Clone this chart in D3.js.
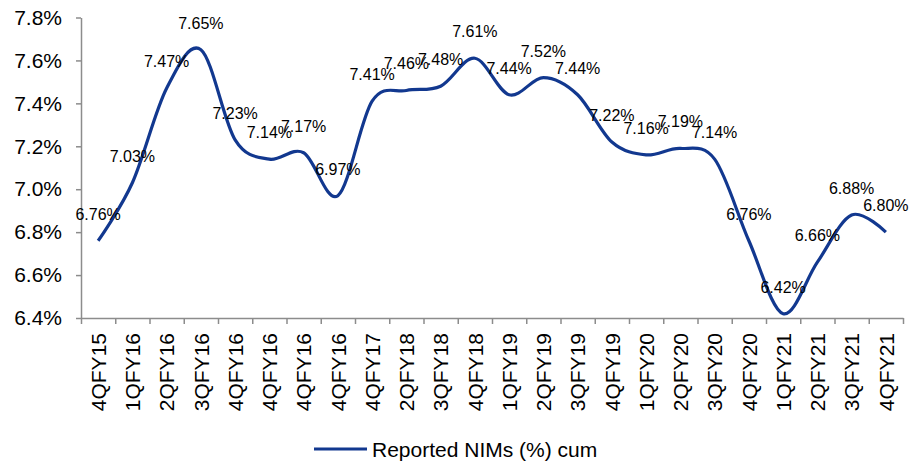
<!DOCTYPE html>
<html>
<head>
<meta charset="utf-8">
<script src="https://cdn.jsdelivr.net/npm/d3@7"></script>
<style>
  body { margin: 0; background: #fff; }
  svg { display: block; font-family: "Liberation Sans", Arial, sans-serif; }
</style>
</head>
<body>
<svg id="chart"></svg>
<script>
// Reported NIMs (%) cum - smoothed line with data labels

const width = 922;
const height = 461;

// Data
const categories = ["4QFY15", "1QFY16", "2QFY16", "3QFY16", "4QFY16", "4QFY16", "4QFY16", "4QFY16",
    "4QFY17", "2QFY18", "3QFY18", "4QFY18", "1QFY19", "2QFY19", "3QFY19", "4QFY19",
    "1QFY20", "2QFY20", "3QFY20", "4QFY20", "1QFY21", "2QFY21", "3QFY21", "4QFY21"];
const nims = [6.76, 7.03, 7.47, 7.65, 7.23, 7.14, 7.17, 6.97,
    7.41, 7.46, 7.48, 7.61, 7.44, 7.52, 7.44, 7.22,
    7.16, 7.19, 7.14, 6.76, 6.42, 6.66, 6.88, 6.80];
const yTicks = [6.4, 6.6, 6.8, 7.0, 7.2, 7.4, 7.6, 7.8];
const seriesName = "Reported NIMs (%) cum";

const lineColor = "#12388f";
const axisColor = "#8c8c8c";

const svg = d3.select("#chart")
    .attr("width", width)
    .attr("height", height);

// Scales - x runs over category slots, points sit in the middle of each slot
const x = d3.scaleLinear()
    .domain([0, categories.length])
    .range([81, 903]);

const y = d3.scaleLinear()
    .domain([6.4, 7.8])
    .range([318, 17.5]);

// Y axis
const yAxis = svg.append("g")
    .attr("transform", `translate(${x(0)},0)`)
    .call(d3.axisLeft(y)
        .tickValues(yTicks)
        .tickSize(5)
        .tickSizeOuter(0)
        .tickPadding(14)
        .tickFormat(d => d.toFixed(1) + "%"));

// X axis - tick marks on slot boundaries
const xAxis = svg.append("g")
    .attr("transform", `translate(0,${y(6.4)})`)
    .call(d3.axisBottom(x)
        .tickValues(d3.range(categories.length + 1))
        .tickSize(6)
        .tickSizeOuter(0)
        .tickFormat(""));

// X labels - centred in each slot, rotated
const xLabels = svg.append("g")
    .attr("transform", `translate(0,${y(6.4)})`)
    .call(d3.axisBottom(x)
        .tickValues(d3.range(categories.length).map(i => i + 0.5))
        .tickSize(0)
        .tickPadding(0)
        .tickFormat(d => categories[Math.floor(d)]));
xLabels.select(".domain").remove();
xLabels.selectAll("text")
    .attr("transform", "rotate(-90)")
    .attr("x", -15)
    .attr("y", 0)
    .attr("dy", "0.35em")
    .style("text-anchor", "end");

[yAxis, xAxis].forEach(g => {
    g.select(".domain").attr("stroke", axisColor).attr("stroke-width", 1.5);
    g.selectAll(".tick line").attr("stroke", axisColor).attr("stroke-width", 1.5);
});
svg.selectAll(".tick text")
    .attr("fill", "#000")
    .style("font-size", "21px")
    .style("font-family", "'Liberation Sans', Arial, sans-serif");

// Line
const line = d3.line()
    .x((d, i) => x(i + 0.5))
    .y(d => y(d))
    .curve(d3.curveCardinal.tension(0));

svg.append("path")
    .datum(nims)
    .attr("fill", "none")
    .attr("stroke", lineColor)
    .attr("stroke-width", 3.2)
    .attr("stroke-linejoin", "round")
    .attr("d", line);

// Data labels above each point
svg.selectAll(".data-label")
    .data(nims)
    .enter()
    .append("text")
    .attr("class", "data-label")
    .attr("x", (d, i) => x(i + 0.5))
    .attr("y", d => y(d) - 21)
    .attr("text-anchor", "middle")
    .style("font-size", "16px")
    .attr("fill", "#000")
    .text(d => d.toFixed(2) + "%");

// Legend
const legend = svg.append("g")
    .attr("transform", "translate(314,449)");
legend.append("line")
    .attr("x1", 0)
    .attr("x2", 53)
    .attr("stroke", lineColor)
    .attr("stroke-width", 3.2);
legend.append("text")
    .attr("x", 58)
    .attr("dy", "0.36em")
    .style("font-size", "21px")
    .attr("fill", "#000")
    .text(seriesName);
</script>
</body>
</html>
